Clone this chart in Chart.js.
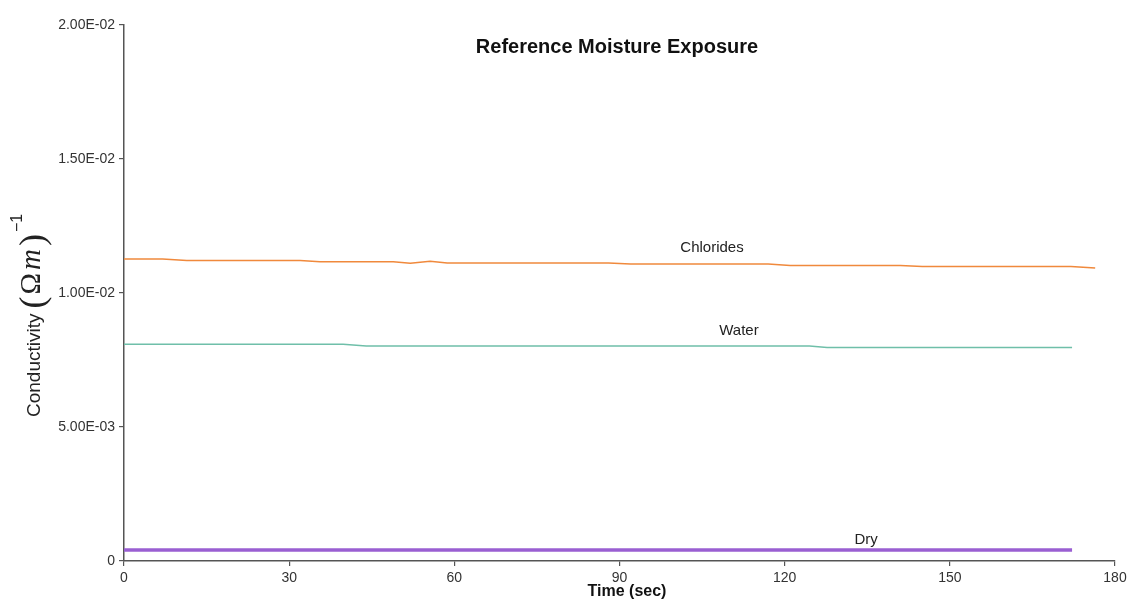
<!DOCTYPE html>
<html>
<head>
<meta charset="utf-8">
<script src="https://cdn.jsdelivr.net/npm/chart.js@4.4.0/dist/chart.umd.min.js"></script>
<style>
  html, body { margin: 0; padding: 0; background: #ffffff; }
  #c { display: block; }
</style>
</head>
<body>
<canvas id="c" width="1133" height="599"></canvas>
<script>
// ---- Data ----
const chartTitle = 'Reference Moisture Exposure';
const xAxisTitle = 'Time (sec)';
const yTickLabels = ['0', '5.00E-03', '1.00E-02', '1.50E-02', '2.00E-02'];
const yTickValues = [0, 0.005, 0.01, 0.015, 0.02];
const xTickValues = [0, 30, 60, 90, 120, 150, 180];

const chloridesTime  = [0, 7, 11.4, 32, 35.6, 48.9, 52, 55.6, 58.7, 88, 92, 117, 121, 141, 145, 172, 176.4];
const chloridesValue = [0.01127, 0.01127, 0.01121, 0.01121, 0.01117, 0.01117, 0.01111, 0.01118, 0.01112, 0.01112, 0.01108, 0.01108, 0.01103, 0.01103, 0.01099, 0.01099, 0.01093];

const waterTime  = [0, 39.8, 44, 124.5, 127.7, 172.2];
const waterValue = [0.00809, 0.00809, 0.00802, 0.00802, 0.00797, 0.00797];

const dryTime  = [0, 172.2];
const dryValue = [0.00041, 0.00041];

const seriesLabels = ['Chlorides', 'Water', 'Dry'];
// label anchor positions in data units (time, value)
const labelTime  = [106.8, 111.7, 134.8];
const labelValue = [0.01168, 0.00858, 0.00078];

function toPoints(xs, ys) { return xs.map((x, i) => ({ x: x, y: ys[i] })); }

const FONT = '"Liberation Sans", Arial, sans-serif';

const overlayPlugin = {
  id: 'overlay',
  afterDraw(chart) {
    const ctx = chart.ctx;
    const xs = chart.scales.x, ys = chart.scales.y;
    ctx.save();
    // Title
    ctx.fillStyle = '#111';
    ctx.font = 'bold 20px ' + FONT;
    ctx.textAlign = 'center';
    ctx.textBaseline = 'middle';
    ctx.fillText(chartTitle, 617, 47);

    // X axis title
    ctx.font = 'bold 16px ' + FONT;
    ctx.fillText(xAxisTitle, 627, 592);

    // Series labels
    ctx.font = '15px ' + FONT;
    ctx.fillStyle = '#222';
    seriesLabels.forEach((t, i) => {
      ctx.fillText(t, xs.getPixelForValue(labelTime[i]), ys.getPixelForValue(labelValue[i]));
    });

    // Y axis title (rotated)
    ctx.translate(40, 417);
    ctx.rotate(-Math.PI / 2);
    ctx.textAlign = 'left';
    ctx.textBaseline = 'alphabetic';
    ctx.fillStyle = '#222';
    ctx.font = '19px ' + FONT;
    ctx.fillText('Conductivity', 0, 0);
    let pos = ctx.measureText('Conductivity').width + 5;
    ctx.font = '36px "Liberation Serif", serif';
    ctx.fillText('(', pos, 4);
    pos += ctx.measureText('(').width + 2;
    ctx.font = '29px "Liberation Serif", serif';
    ctx.fillText('\u03A9', pos, 0);
    pos += ctx.measureText('\u03A9').width + 3;
    ctx.font = 'italic 29px "Liberation Serif", serif';
    ctx.fillText('m', pos, 0);
    pos += ctx.measureText('m').width + 3;
    ctx.font = '36px "Liberation Serif", serif';
    ctx.fillText(')', pos, 4);
    pos += ctx.measureText(')').width + 2;
    ctx.font = '16px ' + FONT;
    ctx.fillText('\u2212' + '1', pos, -18);
    ctx.restore();
  }
};

new Chart(document.getElementById('c'), {
  type: 'scatter',
  data: {
    datasets: [
      { label: seriesLabels[0], data: toPoints(chloridesTime, chloridesValue), showLine: true,
        borderColor: '#f0893c', borderWidth: 1.5, pointRadius: 0, tension: 0 },
      { label: seriesLabels[1], data: toPoints(waterTime, waterValue), showLine: true,
        borderColor: '#6fbfa9', borderWidth: 1.5, pointRadius: 0, tension: 0 },
      { label: seriesLabels[2], data: toPoints(dryTime, dryValue), showLine: true,
        borderColor: '#9a5fd2', borderWidth: 3.5, pointRadius: 0, tension: 0 }
    ]
  },
  options: {
    responsive: false,
    devicePixelRatio: 1,
    animation: false,
    layout: { padding: { top: 25, right: 18, bottom: 0, left: 0 } },
    plugins: { legend: { display: false }, title: { display: false }, tooltip: { enabled: false } },
    scales: {
      x: {
        type: 'linear', min: 0, max: 180,
        afterBuildTicks(scale) { scale.ticks = xTickValues.map(v => ({ value: v })); },
        afterFit(scale) { scale.height = 38; },
        ticks: { color: '#333', font: { family: FONT, size: 14 }, padding: 4, maxRotation: 0,
                 callback: v => String(v) },
        grid: { display: true, drawOnChartArea: false, tickLength: 5, color: '#555', lineWidth: 1.2 },
        border: { display: true, color: '#555', width: 1.5 }
      },
      y: {
        type: 'linear', min: 0, max: 0.02,
        afterBuildTicks(scale) { scale.ticks = yTickValues.map(v => ({ value: v })); },
        afterFit(scale) { scale.width = 124; },
        ticks: { color: '#333', font: { family: FONT, size: 14 }, padding: 4,
                 callback: (v) => { const i = yTickValues.findIndex(t => Math.abs(t - v) < 1e-9); return i >= 0 ? yTickLabels[i] : ''; } },
        grid: { display: true, drawOnChartArea: false, tickLength: 5, color: '#555', lineWidth: 1.2 },
        border: { display: true, color: '#555', width: 1.5 }
      }
    }
  },
  plugins: [overlayPlugin]
});
</script>
</body>
</html>
